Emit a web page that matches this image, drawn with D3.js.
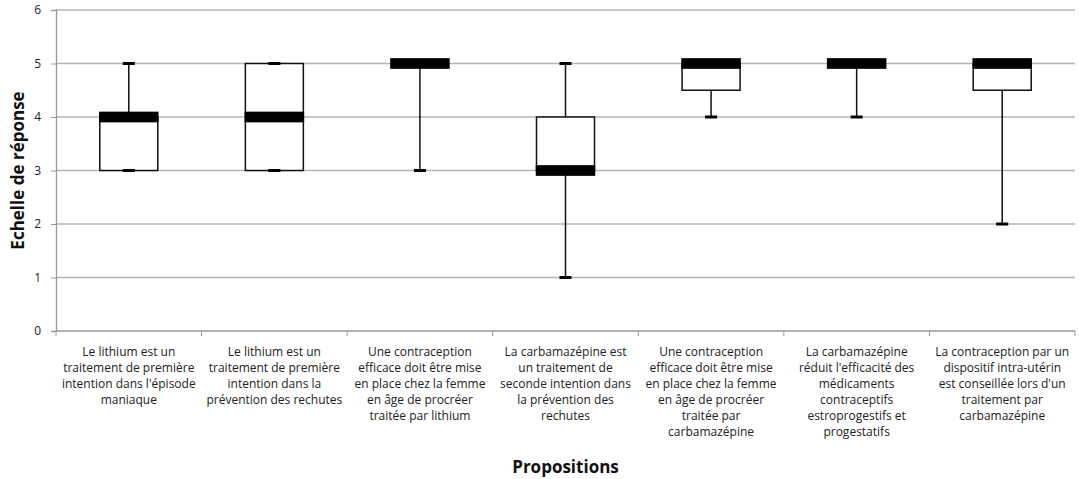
<!DOCTYPE html>
<html>
<head>
<meta charset="utf-8">
<script src="https://cdn.jsdelivr.net/npm/d3@7"></script>
<style>
body { margin:0; background:#fff; }
text { font-family:"Open Sans", "Liberation Sans", Arial, sans-serif; }
</style>
</head>
<body>
<svg id="chart"></svg>
<script>
// propositions (x axis labels, already split in lines)
var labels = [
    ["Le lithium est un","traitement de première","intention dans l'épisode","maniaque"],
    ["Le lithium est un","traitement de première","intention dans la","prévention des rechutes"],
    ["Une contraception","efficace doit être mise","en place chez la femme","en âge de procréer","traitée par lithium"],
    ["La carbamazépine est","un traitement de","seconde intention dans","la prévention des","rechutes"],
    ["Une contraception","efficace doit être mise","en place chez la femme","en âge de procréer","traitée par","carbamazépine"],
    ["La carbamazépine","réduit l'efficacité des","médicaments","contraceptifs","estroprogestifs et","progestatifs"],
    ["La contraception par un","dispositif intra-utérin","est conseillée lors d'un","traitement par","carbamazépine"]
]
var mins    = [3, 3, 3, 1, 4,   4, 2]
var q1s     = [3, 3, 5, 3, 4.5, 5, 4.5]
var medians = [4, 4, 5, 3, 5,   5, 5]
var q3s     = [4, 5, 5, 4, 5,   5, 5]
var maxs    = [5, 5, 5, 5, 5,   5, 5]
var yTicks  = [0, 1, 2, 3, 4, 5, 6]

var screen = {width:1079,height:479}
var margins = {top:10,right:4,bottom:148,left:56}
var width = screen.width - margins.left - margins.right
var height = screen.height - margins.top - margins.bottom

var svg = d3.select("#chart")
    .attr("width",screen.width)
    .attr("height",screen.height)

var g = svg.append("g")
    .attr("transform","translate("+margins.left+","+margins.top+")")

var idx = d3.range(labels.length)
var xScale = d3.scaleBand().domain(idx).range([0,width])
var yScale = d3.scaleLinear().domain([0,6]).range([height,0])

// gridlines
g.selectAll(".grid")
    .data(yTicks.slice(1))
    .enter()
    .append("line")
    .attr("x1",0).attr("x2",width)
    .attr("y1",function(d){ return yScale(d) })
    .attr("y2",function(d){ return yScale(d) })
    .attr("stroke","#b4b4b4")
    .attr("stroke-width",1.3)

// y axis
var yAxis = g.append("g")
    .call(d3.axisLeft(yScale).tickValues(yTicks).tickFormat(d3.format("d")).tickSize(5).tickPadding(10))
yAxis.select(".domain").attr("stroke","#999").attr("stroke-width",1.3)
yAxis.selectAll(".tick line").attr("stroke","#999")
yAxis.selectAll("text").attr("font-size",12).attr("fill","#1a1a2a")
    .style("font-family","'Open Sans', Arial, sans-serif")

// x axis (ticks at category boundaries)
var xAxisG = g.append("g").attr("transform","translate(0,"+height+")")
xAxisG.append("line")
    .attr("x1",0).attr("x2",width)
    .attr("stroke","#999").attr("stroke-width",1.3)
xAxisG.selectAll(".xt")
    .data(d3.range(labels.length+1))
    .enter()
    .append("line")
    .attr("x1",function(i){ return i*xScale.step() })
    .attr("x2",function(i){ return i*xScale.step() })
    .attr("y1",0).attr("y2",5)
    .attr("stroke","#999")

// category labels
var lbl = xAxisG.selectAll(".lbl")
    .data(idx)
    .enter()
    .append("text")
    .attr("text-anchor","middle")
    .attr("font-size",12)
    .attr("fill","#222")
lbl.each(function(i){
    var t = d3.select(this)
    labels[i].forEach(function(line,k){
        t.append("tspan")
            .attr("x",xScale(i)+xScale.bandwidth()/2)
            .attr("y",25+k*16)
            .text(line)
    })
})

// boxes
var boxW = 58, capW = 12
var boxes = g.selectAll(".box")
    .data(idx)
    .enter()
    .append("g")
    .attr("transform",function(i){ return "translate("+(xScale(i)+xScale.bandwidth()/2)+",0)" })

boxes.append("line")
    .attr("x1",0).attr("x2",0)
    .attr("y1",function(i){ return yScale(maxs[i]) })
    .attr("y2",function(i){ return yScale(q3s[i]) })
    .attr("stroke","#111").attr("stroke-width",1.5)
boxes.append("line")
    .attr("x1",0).attr("x2",0)
    .attr("y1",function(i){ return yScale(q1s[i]) })
    .attr("y2",function(i){ return yScale(mins[i]) })
    .attr("stroke","#111").attr("stroke-width",1.5)

boxes.append("rect")
    .attr("x",-boxW/2)
    .attr("width",boxW)
    .attr("y",function(i){ return yScale(q3s[i]) })
    .attr("height",function(i){ return yScale(q1s[i]) - yScale(q3s[i]) })
    .attr("fill","#fff").attr("stroke","#111").attr("stroke-width",1.5)

// caps
boxes.append("rect")
    .attr("x",-capW/2).attr("width",capW)
    .attr("y",function(i){ return yScale(maxs[i])-1.5 }).attr("height",3)
    .attr("fill","#000")
boxes.append("rect")
    .attr("x",-capW/2).attr("width",capW)
    .attr("y",function(i){ return yScale(mins[i])-1.5 }).attr("height",3)
    .attr("fill","#000")

// median bar
boxes.append("rect")
    .attr("x",-boxW/2-0.75)
    .attr("width",boxW+1.5)
    .attr("y",function(i){ return yScale(medians[i]+0.1) })
    .attr("height",function(i){ return yScale(medians[i]-0.1) - yScale(medians[i]+0.1) })
    .attr("fill","#000")

// axis titles
svg.append("text")
    .attr("transform","translate(24,"+(margins.top+height/2)+") rotate(-90)")
    .attr("text-anchor","middle")
    .attr("font-size",17).attr("font-weight","bold")
    .attr("fill","#111")
    .text("Echelle de réponse")

svg.append("text")
    .attr("x",margins.left+width/2)
    .attr("y",473)
    .attr("text-anchor","middle")
    .attr("font-size",17).attr("font-weight","bold")
    .attr("fill","#111")
    .text("Propositions")
</script>
</body>
</html>
